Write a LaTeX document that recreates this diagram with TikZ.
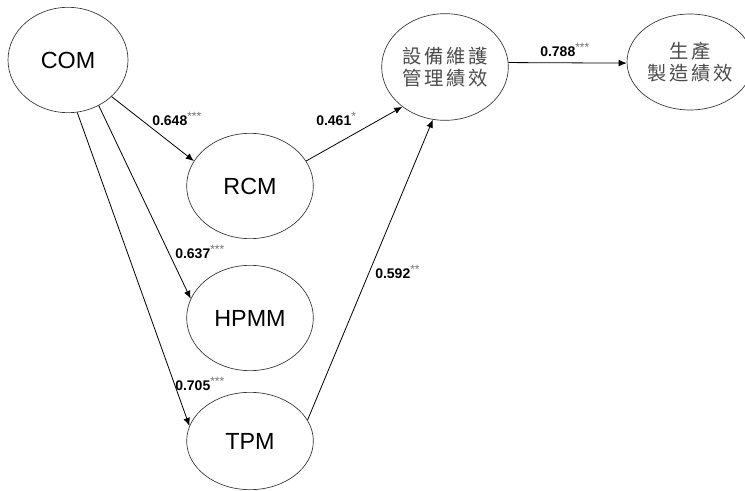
\documentclass[tikz,border=0pt]{standalone}
\usepackage{fontspec}
\setmainfont{Liberation Sans}
\newfontfamily\cjk[LetterSpace=14]{Noto Sans CJK TC}
\usetikzlibrary{shapes.geometric,arrows.meta}

\tikzset{
  latent/.style={ellipse,draw=black!80,line width=0.5pt,inner sep=0pt,
    minimum width=94.5pt,minimum height=79pt,font=\fontsize{17.5}{20}\selectfont},
  cjklatent/.style={latent,align=center,text=black!70,font=\cjk\fontsize{14.5}{17}\selectfont},
  coef/.style={anchor=west,inner sep=0.75pt,font=\fontsize{10.5}{12}\selectfont\bfseries},
  path/.style={draw=black,line width=0.6pt,-{Latex[length=6pt,width=5pt]}}
}
\newcommand{\sig}[1]{\textsuperscript{\mdseries\color{black!55}\fontsize{9}{9}\selectfont #1}}

\begin{document}
\begin{tikzpicture}[x=0.75pt,y=0.75pt,yscale=-1,xscale=1]
\clip (0,0) rectangle (745,491);
\fill[white] (0,0) rectangle (745,491);

%Shape: Ellipse
\node[latent,minimum width=90pt] (com) at (68,60) {COM};
\node[latent,minimum width=95pt] (rcm) at (250,186) {RCM};
\node[latent,minimum width=95pt] (hpmm) at (250,318) {HPMM};
\node[latent,minimum width=95pt,minimum height=73pt] (tpm) at (250,441) {TPM};
\node[cjklatent,minimum width=95pt,minimum height=80pt] (eqperf) at (445,67) {設備維護\\管理績效};
\node[cjklatent,minimum height=72pt] (prodperf) at (690,62) {生產\\製造績效};

% Paths
\draw[path] (com.-40) -- (rcm.156);
\draw[path] (com.-56) -- (hpmm.162);
\draw[path] (com.-80) -- (tpm.166);
\draw[path] (rcm.24) -- (eqperf.-137);
\draw[path] (tpm.20) -- (eqperf.-103);
\draw[path] (eqperf.4) -- (prodperf.181);

% Text Node
\node[coef] (c1) at (151,119) {0.648\sig{***}};
% Text Node
\node[coef] (c2) at (315,119) {0.461\sig{*}};
% Text Node
\node[coef] (c3) at (174,252) {0.637\sig{***}};
% Text Node
\node[coef] (c4) at (174,384) {0.705\sig{***}};
% Text Node
\node[coef] (c5) at (374,272) {0.592\sig{**}};
% Text Node
\node[coef] (c6) at (539,50) {0.788\sig{***}};

\end{tikzpicture}
\end{document}
